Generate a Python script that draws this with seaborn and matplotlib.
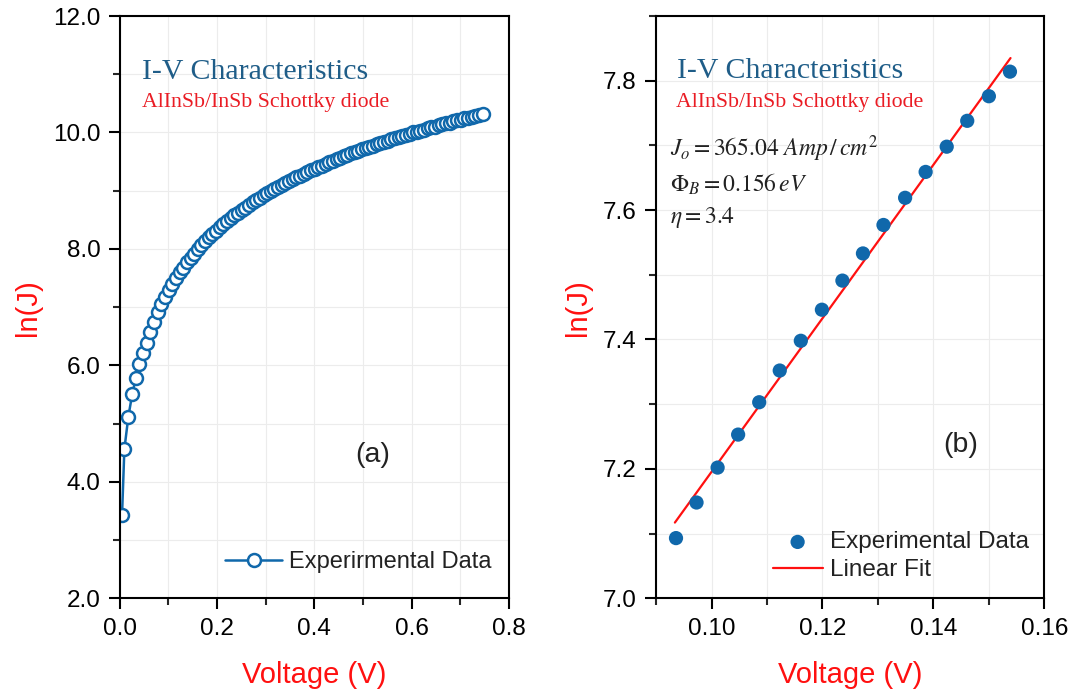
import matplotlib
matplotlib.use("Agg")
import pandas as pd
import matplotlib.pyplot as plt
import seaborn as sns
from matplotlib.ticker import MultipleLocator, FormatStrFormatter

# panel (a): full forward I-V curve
voltage_a = [0.0047, 0.0095, 0.0177, 0.0255, 0.0330, 0.0405, 0.0480,
             0.0555, 0.0630, 0.0705, 0.0780, 0.0855, 0.0930, 0.1005, 0.1080, 0.1155, 0.1230,
             0.1305, 0.1380, 0.1455, 0.1530, 0.1605, 0.1680, 0.1755, 0.1830, 0.1905, 0.1980,
             0.2055, 0.2130, 0.2205, 0.2280, 0.2355, 0.2430, 0.2505, 0.2580, 0.2655, 0.2730,
             0.2805, 0.2880, 0.2955, 0.3030, 0.3105, 0.3180, 0.3255, 0.3330, 0.3405, 0.3480,
             0.3555, 0.3630, 0.3705, 0.3780, 0.3855, 0.3930, 0.4005, 0.4080, 0.4155, 0.4230,
             0.4305, 0.4380, 0.4455, 0.4530, 0.4605, 0.4680, 0.4755, 0.4830, 0.4905, 0.4980,
             0.5055, 0.5130, 0.5205, 0.5280, 0.5355, 0.5430, 0.5505, 0.5580, 0.5655, 0.5730,
             0.5805, 0.5880, 0.5955, 0.6030, 0.6105, 0.6180, 0.6255, 0.6330, 0.6405, 0.6480,
             0.6555, 0.6630, 0.6705, 0.6780, 0.6855, 0.6930, 0.7005, 0.7080, 0.7155, 0.7230,
             0.7305, 0.7380, 0.7455]
lnj_a = [3.43, 4.56, 5.12, 5.50, 5.78, 6.02, 6.21,
         6.39, 6.58, 6.75, 6.91, 7.05, 7.17, 7.29, 7.40, 7.50, 7.60,
         7.68, 7.77, 7.85, 7.92, 8.00, 8.07, 8.13, 8.20, 8.26, 8.31,
         8.37, 8.42, 8.48, 8.53, 8.58, 8.62, 8.67, 8.71, 8.76, 8.80,
         8.84, 8.88, 8.92, 8.96, 8.99, 9.03, 9.06, 9.10, 9.13, 9.17,
         9.20, 9.23, 9.26, 9.29, 9.32, 9.35, 9.38, 9.41, 9.43, 9.46,
         9.49, 9.51, 9.54, 9.56, 9.59, 9.61, 9.64, 9.66, 9.68, 9.71,
         9.73, 9.75, 9.77, 9.80, 9.82, 9.84, 9.86, 9.88, 9.90, 9.92,
         9.94, 9.96, 9.98, 10.00, 10.01, 10.03, 10.05, 10.07, 10.09, 10.10,
         10.12, 10.14, 10.16, 10.17, 10.19, 10.21, 10.22, 10.24, 10.25, 10.27,
         10.29, 10.30, 10.32]

# panel (b): linear region + fit
voltage_b = [0.0936, 0.0973, 0.1011, 0.1048, 0.1086, 0.1123, 0.1161, 0.1199, 0.1236,
             0.1273, 0.1310, 0.1349, 0.1386, 0.1424, 0.1461, 0.1500, 0.1538]
lnj_b = [7.093, 7.148, 7.202, 7.253, 7.303, 7.352, 7.398, 7.446, 7.491,
         7.533, 7.577, 7.619, 7.659, 7.698, 7.738, 7.776, 7.814]
fit_v = [0.0934, 0.1539]
fit_lnj = [7.117, 7.835]

df_a = pd.DataFrame({"V": voltage_a, "lnJ": lnj_a})
df_b = pd.DataFrame({"V": voltage_b, "lnJ": lnj_b})
df_fit = pd.DataFrame({"V": fit_v, "lnJ": fit_lnj})

sns.set_style("white")
plt.rcParams["font.family"] = ["Liberation Sans", "DejaVu Sans"]
plt.rcParams["mathtext.fontset"] = "stix"

BLUE = "#1068ab"
RED = "#ff1010"
TITLE_BLUE = "#1f5d88"
SUB_RED = "#ea1c24"

fig = plt.figure(figsize=(10.73, 6.93), dpi=100)
ax1 = fig.add_axes([0.1116, 0.1367, 0.3628, 0.8402])
ax2 = fig.add_axes([0.6114, 0.1367, 0.3619, 0.8402])

sns.lineplot(data=df_a, x="V", y="lnJ", ax=ax1, color=BLUE, linewidth=1.8,
             marker="o", markersize=9.3, markerfacecolor="white",
             markeredgecolor=BLUE, markeredgewidth=1.8, label="Experirmental Data")

sns.scatterplot(data=df_b, x="V", y="lnJ", ax=ax2, color=BLUE, s=105,
                edgecolor="none", label="Experimental Data", zorder=3)
sns.lineplot(data=df_fit, x="V", y="lnJ", ax=ax2, color=RED, linewidth=1.6,
             label="Linear Fit")


def style_axis(ax, xlim, ylim, xmaj, xmin, ymaj, ymin, xfmt, yfmt):
    ax.set_xlim(*xlim)
    ax.set_ylim(*ylim)
    ax.xaxis.set_major_locator(MultipleLocator(xmaj))
    ax.xaxis.set_minor_locator(MultipleLocator(xmin))
    ax.yaxis.set_major_locator(MultipleLocator(ymaj))
    ax.yaxis.set_minor_locator(MultipleLocator(ymin))
    ax.xaxis.set_major_formatter(FormatStrFormatter(xfmt))
    ax.yaxis.set_major_formatter(FormatStrFormatter(yfmt))
    ax.grid(True, which="both", color="#ececec", linewidth=0.8)
    ax.set_axisbelow(True)
    for sp in ax.spines.values():
        sp.set_visible(True)
        sp.set_color("black")
        sp.set_linewidth(1.5)
    ax.tick_params(which="major", direction="out", length=8, width=1.5,
                   labelsize=17.5, pad=6, colors="black", left=True, bottom=True)
    ax.tick_params(which="minor", direction="out", length=5, width=1.5,
                   left=True, bottom=True)
    ax.set_xlabel("Voltage (V)", color=RED, fontsize=21, labelpad=15)
    ax.set_ylabel("ln(J)", color=RED, fontsize=21, labelpad=8)


style_axis(ax1, (0, 0.8), (2, 12), 0.2, 0.1, 2, 1, "%.1f", "%.1f")
style_axis(ax2, (0.09, 0.16), (7.0, 7.9), 0.02, 0.01, 0.2, 0.1, "%.2f", "%.1f")

# annotations panel (a)
ax1.text(0.0565, 0.892, "I-V Characteristics", transform=ax1.transAxes,
         family="Liberation Serif", fontsize=21.5, color=TITLE_BLUE, va="baseline")
ax1.text(0.0565, 0.844, "AlInSb/InSb Schottky diode", transform=ax1.transAxes,
         family="Liberation Serif", fontsize=15.7, color=SUB_RED, va="baseline")
ax1.text(0.519, 4.46, "(a)", fontsize=20.5, ha="center", va="center", color="#222222")

# annotations panel (b)
ax2.text(0.053, 0.894, "I-V Characteristics", transform=ax2.transAxes,
         family="Liberation Serif", fontsize=21.5, color=TITLE_BLUE, va="baseline")
ax2.text(0.052, 0.844, "AlInSb/InSb Schottky diode", transform=ax2.transAxes,
         family="Liberation Serif", fontsize=15.7, color=SUB_RED, va="baseline")
ax2.text(0.036, 0.760, r"$J_o = 365.04\ Amp\,/\,cm^2$", transform=ax2.transAxes,
         fontsize=17, color="#222222", va="baseline")
ax2.text(0.036, 0.698, r"$\Phi_B = 0.156\,eV$", transform=ax2.transAxes,
         fontsize=17, color="#222222", va="baseline")
ax2.text(0.036, 0.645, r"$\eta = 3.4$", transform=ax2.transAxes,
         fontsize=17, color="#222222", va="baseline")
ax2.text(0.1449, 7.237, "(b)", fontsize=20.5, ha="center", va="center", color="#222222")

ax1.legend(loc="center right", bbox_to_anchor=(0.955, 0.062), frameon=False,
           fontsize=17, handlelength=2.4, handletextpad=0.3, borderpad=0,
           borderaxespad=0, labelcolor="#222222")
ax2.legend(loc="center right", bbox_to_anchor=(0.96, 0.072), frameon=False,
           fontsize=17.5, handlelength=2.05, handletextpad=0.3, borderpad=0,
           borderaxespad=0, labelspacing=0.25, labelcolor="#222222")

fig.savefig("out.png", dpi=100)
